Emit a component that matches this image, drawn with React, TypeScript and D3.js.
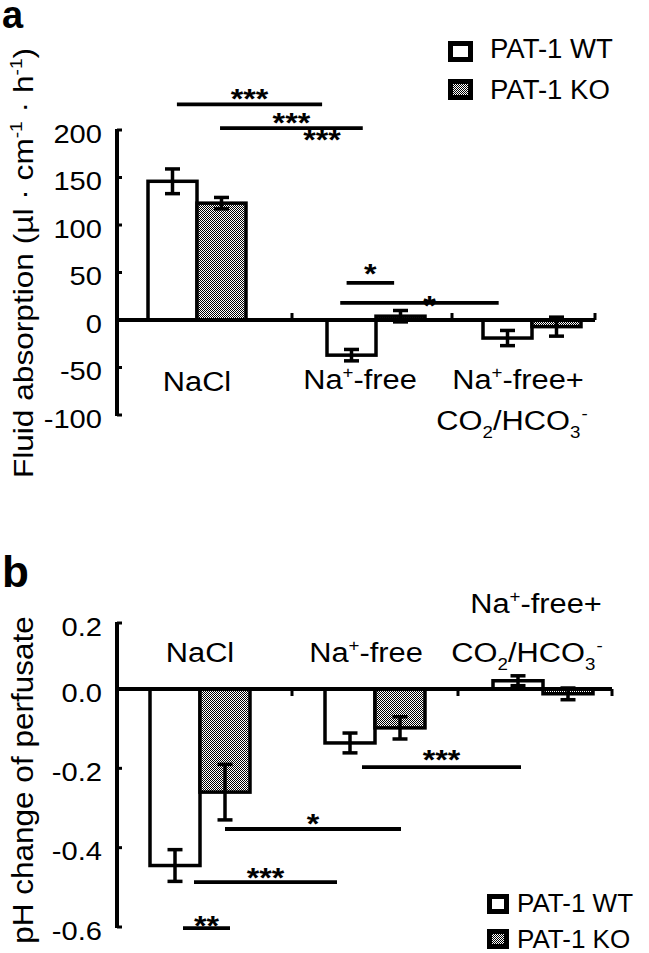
import React from 'react';
import * as d3 from 'd3';

// ---------- DATA ----------
const categories = ['NaCl', 'Na+-free', 'Na+-free+CO2/HCO3-'];
const seriesNames = ['PAT-1 WT', 'PAT-1 KO'];

// Panel a: fluid absorption (µl·cm-1·h-1)
const fluidWT = [146, -37, -19];
const fluidWTErr = [13, 6, 8];
const fluidKO = [123, 4, -7];
const fluidKOErr = [6, 6, 10];
const fluidTicks = [200, 150, 100, 50, 0, -50, -100];

// Panel b: pH change of perfusate
const phWT = [-0.445, -0.136, 0.025];
const phWTErr = [0.04, 0.025, 0.015];
const phKO = [-0.26, -0.098, -0.012];
const phKOErr = [0.07, 0.028, 0.015];
const phTicks = [0.2, 0.0, -0.2, -0.4, -0.6];

// significance annotations: y in data units, ends as [category index, offset in bar widths]
const sigA = [
  { label: '***', y: 227, from: [0, -0.41], to: [1, -1.1], line: true },
  { label: '***', y: 202, from: [0, 0.47], to: [1, -0.27], line: true },
  { label: '***', y: 180, from: [1, -1.1], to: [1, -1.1], line: false },
  { label: '*', y: 39, from: [1, -0.6], to: [1, 0.37], line: true },
  { label: '*', y: 18, from: [1, -0.73], to: [2, -0.68], line: true },
];
const sigB = [
  { label: '**', y: -0.603, from: [0, -0.34], to: [0, 0.6], line: true },
  { label: '***', y: -0.487, from: [0, -0.12], to: [1, -0.76], line: true },
  { label: '*', y: -0.353, from: [0, 0.5], to: [1, 0.52], line: true },
  { label: '***', y: -0.197, from: [1, -0.26], to: [2, -0.44], line: true },
];

// ---------- LAYOUT ----------
const W = 649;
const H = 953;
const FONT = '"Liberation Sans", Arial, Helvetica, sans-serif';
const AXIS_X = 117;

const A = {
  y: d3.scaleLinear().domain([-100, 200]).range([415, 130]),
  x: d3.scaleOrdinal<string, number>().domain(categories).range([197, 376, 532]),
  bw: 49,
  xEnd: 595,
  sepTicks: [292, 452, 595],
  sepDir: -1,
  labelDy: [4, 4, 0, 0, 12],
  labelDx: [0, 0, 0, 0, 10],
};
const B = {
  y: d3.scaleLinear().domain([-0.6, 0, 0.2]).range([927, 689, 623]),
  x: d3.scaleOrdinal<string, number>().domain(categories).range([200, 375, 543]),
  bw: 50,
  xEnd: 612,
  sepTicks: [292, 458, 612],
  sepDir: 1,
  labelDy: [7, 5, 4, 2],
  labelDx: [0, 0, 0, 0],
};

function Txt({ x, y, children, size = 27, anchor = 'start', sx = 1.1, rotate = 0, weight = 'normal' }: any) {
  return (
    <text
      transform={`translate(${x},${y}) rotate(${rotate}) scale(${sx},1)`}
      fontSize={size}
      textAnchor={anchor}
      fontFamily={FONT}
      fontWeight={weight}
      fill="#000"
    >
      {children}
    </text>
  );
}

const NaFree = () => (
  <>
    Na<tspan fontSize={17} dy={-11}>+</tspan>
    <tspan dy={11}>-free</tspan>
  </>
);
const NaFreePlus = () => (
  <>
    Na<tspan fontSize={17} dy={-11}>+</tspan>
    <tspan dy={11}>-free+</tspan>
  </>
);
const CO2 = () => (
  <>
    CO<tspan fontSize={17} dy={8}>2</tspan>
    <tspan dy={-8}>/HCO</tspan>
    <tspan fontSize={17} dy={8}>3</tspan>
    <tspan fontSize={17} dy={-19} dx={1}>-</tspan>
  </>
);

function Bars({ P, wt, wtErr, ko, koErr }: any) {
  const y0 = P.y(0);
  const items: any[] = [];
  categories.forEach((c, i) => {
    const cx = P.x(c);
    [
      { v: wt[i], e: wtErr[i], x0: cx - P.bw, fill: '#fff' },
      { v: ko[i], e: koErr[i], x0: cx, fill: 'url(#dots)' },
    ].forEach((b, j) => {
      const yv = P.y(b.v);
      items.push(
        <rect
          key={`b${i}${j}`}
          x={b.x0}
          y={Math.min(yv, y0)}
          width={P.bw}
          height={Math.abs(yv - y0)}
          fill={b.fill}
          stroke="#000"
          strokeWidth={3.5}
        />
      );
    });
  });
  categories.forEach((c, i) => {
    const cx = P.x(c);
    [
      { v: wt[i], e: wtErr[i], xc: cx - P.bw / 2 },
      { v: ko[i], e: koErr[i], xc: cx + P.bw / 2 },
    ].forEach((b, j) => {
      const t = P.y(b.v + b.e);
      const bo = P.y(b.v - b.e);
      items.push(
        <g key={`e${i}${j}`} stroke="#000" strokeWidth={3.5}>
          <line x1={b.xc} x2={b.xc} y1={t} y2={bo} />
          <line x1={b.xc - 7.5} x2={b.xc + 7.5} y1={t} y2={t} />
          <line x1={b.xc - 7.5} x2={b.xc + 7.5} y1={bo} y2={bo} />
        </g>
      );
    });
  });
  return <g>{items}</g>;
}

function Axes({ P, ticks, fmt }: any) {
  const y0 = P.y(0);
  const dom = P.y.domain();
  return (
    <g>
      <line x1={AXIS_X} x2={AXIS_X} y1={P.y(dom[dom.length - 1]) - 1} y2={P.y(dom[0]) + 1} stroke="#000" strokeWidth={4} />
      {ticks.map((t: number) => (
        <g key={t}>
          <line x1={AXIS_X} x2={AXIS_X + 5} y1={P.y(t)} y2={P.y(t)} stroke="#000" strokeWidth={3} />
          <Txt x={102} y={P.y(t) + 12.5} anchor="end" size={26} sx={1.12}>
            {fmt(t)}
          </Txt>
        </g>
      ))}
      <line x1={AXIS_X} x2={P.xEnd} y1={y0} y2={y0} stroke="#000" strokeWidth={4} />
      {P.sepTicks.map((sx: number) => (
        <line key={sx} x1={sx} x2={sx} y1={y0} y2={y0 + P.sepDir * 7} stroke="#000" strokeWidth={3} />
      ))}
    </g>
  );
}

function Sig({ P, sig }: any) {
  const px = (e: number[]) => P.x(categories[e[0]]) + e[1] * P.bw;
  return (
    <g>
      {sig.map((s: any, i: number) => {
        const x1 = px(s.from);
        const x2 = px(s.to);
        const y = P.y(s.y);
        return (
          <g key={i}>
            {s.line && <line x1={x1} x2={x2} y1={y} y2={y} stroke="#000" strokeWidth={3.8} />}
            <Txt x={(x1 + x2) / 2 + P.labelDx[i]} y={y + P.labelDy[i]} anchor="middle" size={28} sx={1.15} weight="bold">
              {s.label}
            </Txt>
          </g>
        );
      })}
    </g>
  );
}

function Legend({ x, y1, y2, tx, b1, b2, bw = 25, bh = 21, size = 27, sx = 1.02 }: any) {
  return (
    <g>
      <rect x={x + 2.5} y={y1 + 2.5} width={bw - 5} height={bh - 5} fill="#fff" stroke="#000" strokeWidth={5} />
      <rect x={x + 2.5} y={y2 + 2.5} width={bw - 5} height={bh - 5} fill="url(#dots)" stroke="#000" strokeWidth={5} />
      <Txt x={tx} y={b1} size={size} sx={sx}>{seriesNames[0]}</Txt>
      <Txt x={tx} y={b2} size={size} sx={sx}>{seriesNames[1]}</Txt>
    </g>
  );
}

export default function App() {
  const fmtA = (t: number) => d3.format('d')(t).replace('−', '-');
  const fmtB = (t: number) => d3.format('.1f')(t).replace('−', '-');
  return (
    <svg width={W} height={H} style={{ position: 'absolute', left: 0, top: 0, background: '#fff' }}>
      <defs>
        <pattern id="dots" width={2} height={2} patternUnits="userSpaceOnUse">
          <rect width={2} height={2} fill="#fff" />
          <rect width={1} height={1} fill="#000" />
          <rect x={1} y={1} width={1} height={1} fill="#000" />
        </pattern>
      </defs>
      <rect width={W} height={H} fill="#fff" />

      {/* ---------- Panel a ---------- */}
      <Txt x={2} y={28} size={38} weight="bold" sx={1}>a</Txt>
      <Txt x={33} y={263} rotate={-90} anchor="middle" size={28} sx={1.13}>
        Fluid absorption (µl · cm<tspan fontSize={17} dy={-11}>-1</tspan>
        <tspan dy={11}> · h</tspan>
        <tspan fontSize={17} dy={-11}>-1</tspan>
        <tspan dy={11}>)</tspan>
      </Txt>
      <Legend x={448} y1={41} y2={79} tx={490} b1={58} b2={99} />
      <Bars P={A} wt={fluidWT} wtErr={fluidWTErr} ko={fluidKO} koErr={fluidKOErr} />
      <Axes P={A} ticks={fluidTicks} fmt={fmtA} />
      <Sig P={A} sig={sigA} />
      <Txt x={A.x(categories[0])} y={391} anchor="middle" size={28}>NaCl</Txt>
      <Txt x={A.x(categories[1]) - 16} y={389} anchor="middle" size={28}><NaFree /></Txt>
      <Txt x={A.x(categories[2]) - 14} y={389} anchor="middle" size={28}><NaFreePlus /></Txt>
      <Txt x={A.x(categories[2]) - 20} y={430} anchor="middle" size={28}><CO2 /></Txt>

      {/* ---------- Panel b ---------- */}
      <Txt x={2} y={587} size={44} weight="bold" sx={1}>b</Txt>
      <Txt x={33} y={780} rotate={-90} anchor="middle" size={30} sx={1.05}>
        pH change of perfusate
      </Txt>
      <Bars P={B} wt={phWT} wtErr={phWTErr} ko={phKO} koErr={phKOErr} />
      <Axes P={B} ticks={phTicks} fmt={fmtB} />
      <Sig P={B} sig={sigB} />
      <Txt x={B.x(categories[0])} y={662} anchor="middle" size={28}>NaCl</Txt>
      <Txt x={B.x(categories[1]) - 9} y={662} anchor="middle" size={28}><NaFree /></Txt>
      <Txt x={B.x(categories[2]) - 7} y={613} anchor="middle" size={28}><NaFreePlus /></Txt>
      <Txt x={B.x(categories[2]) - 16} y={662} anchor="middle" size={28}><CO2 /></Txt>
      <Legend x={487} y1={894} y2={929} tx={517} b1={912} b2={948} bw={22} bh={20} size={26} sx={1} />
    </svg>
  );
}
